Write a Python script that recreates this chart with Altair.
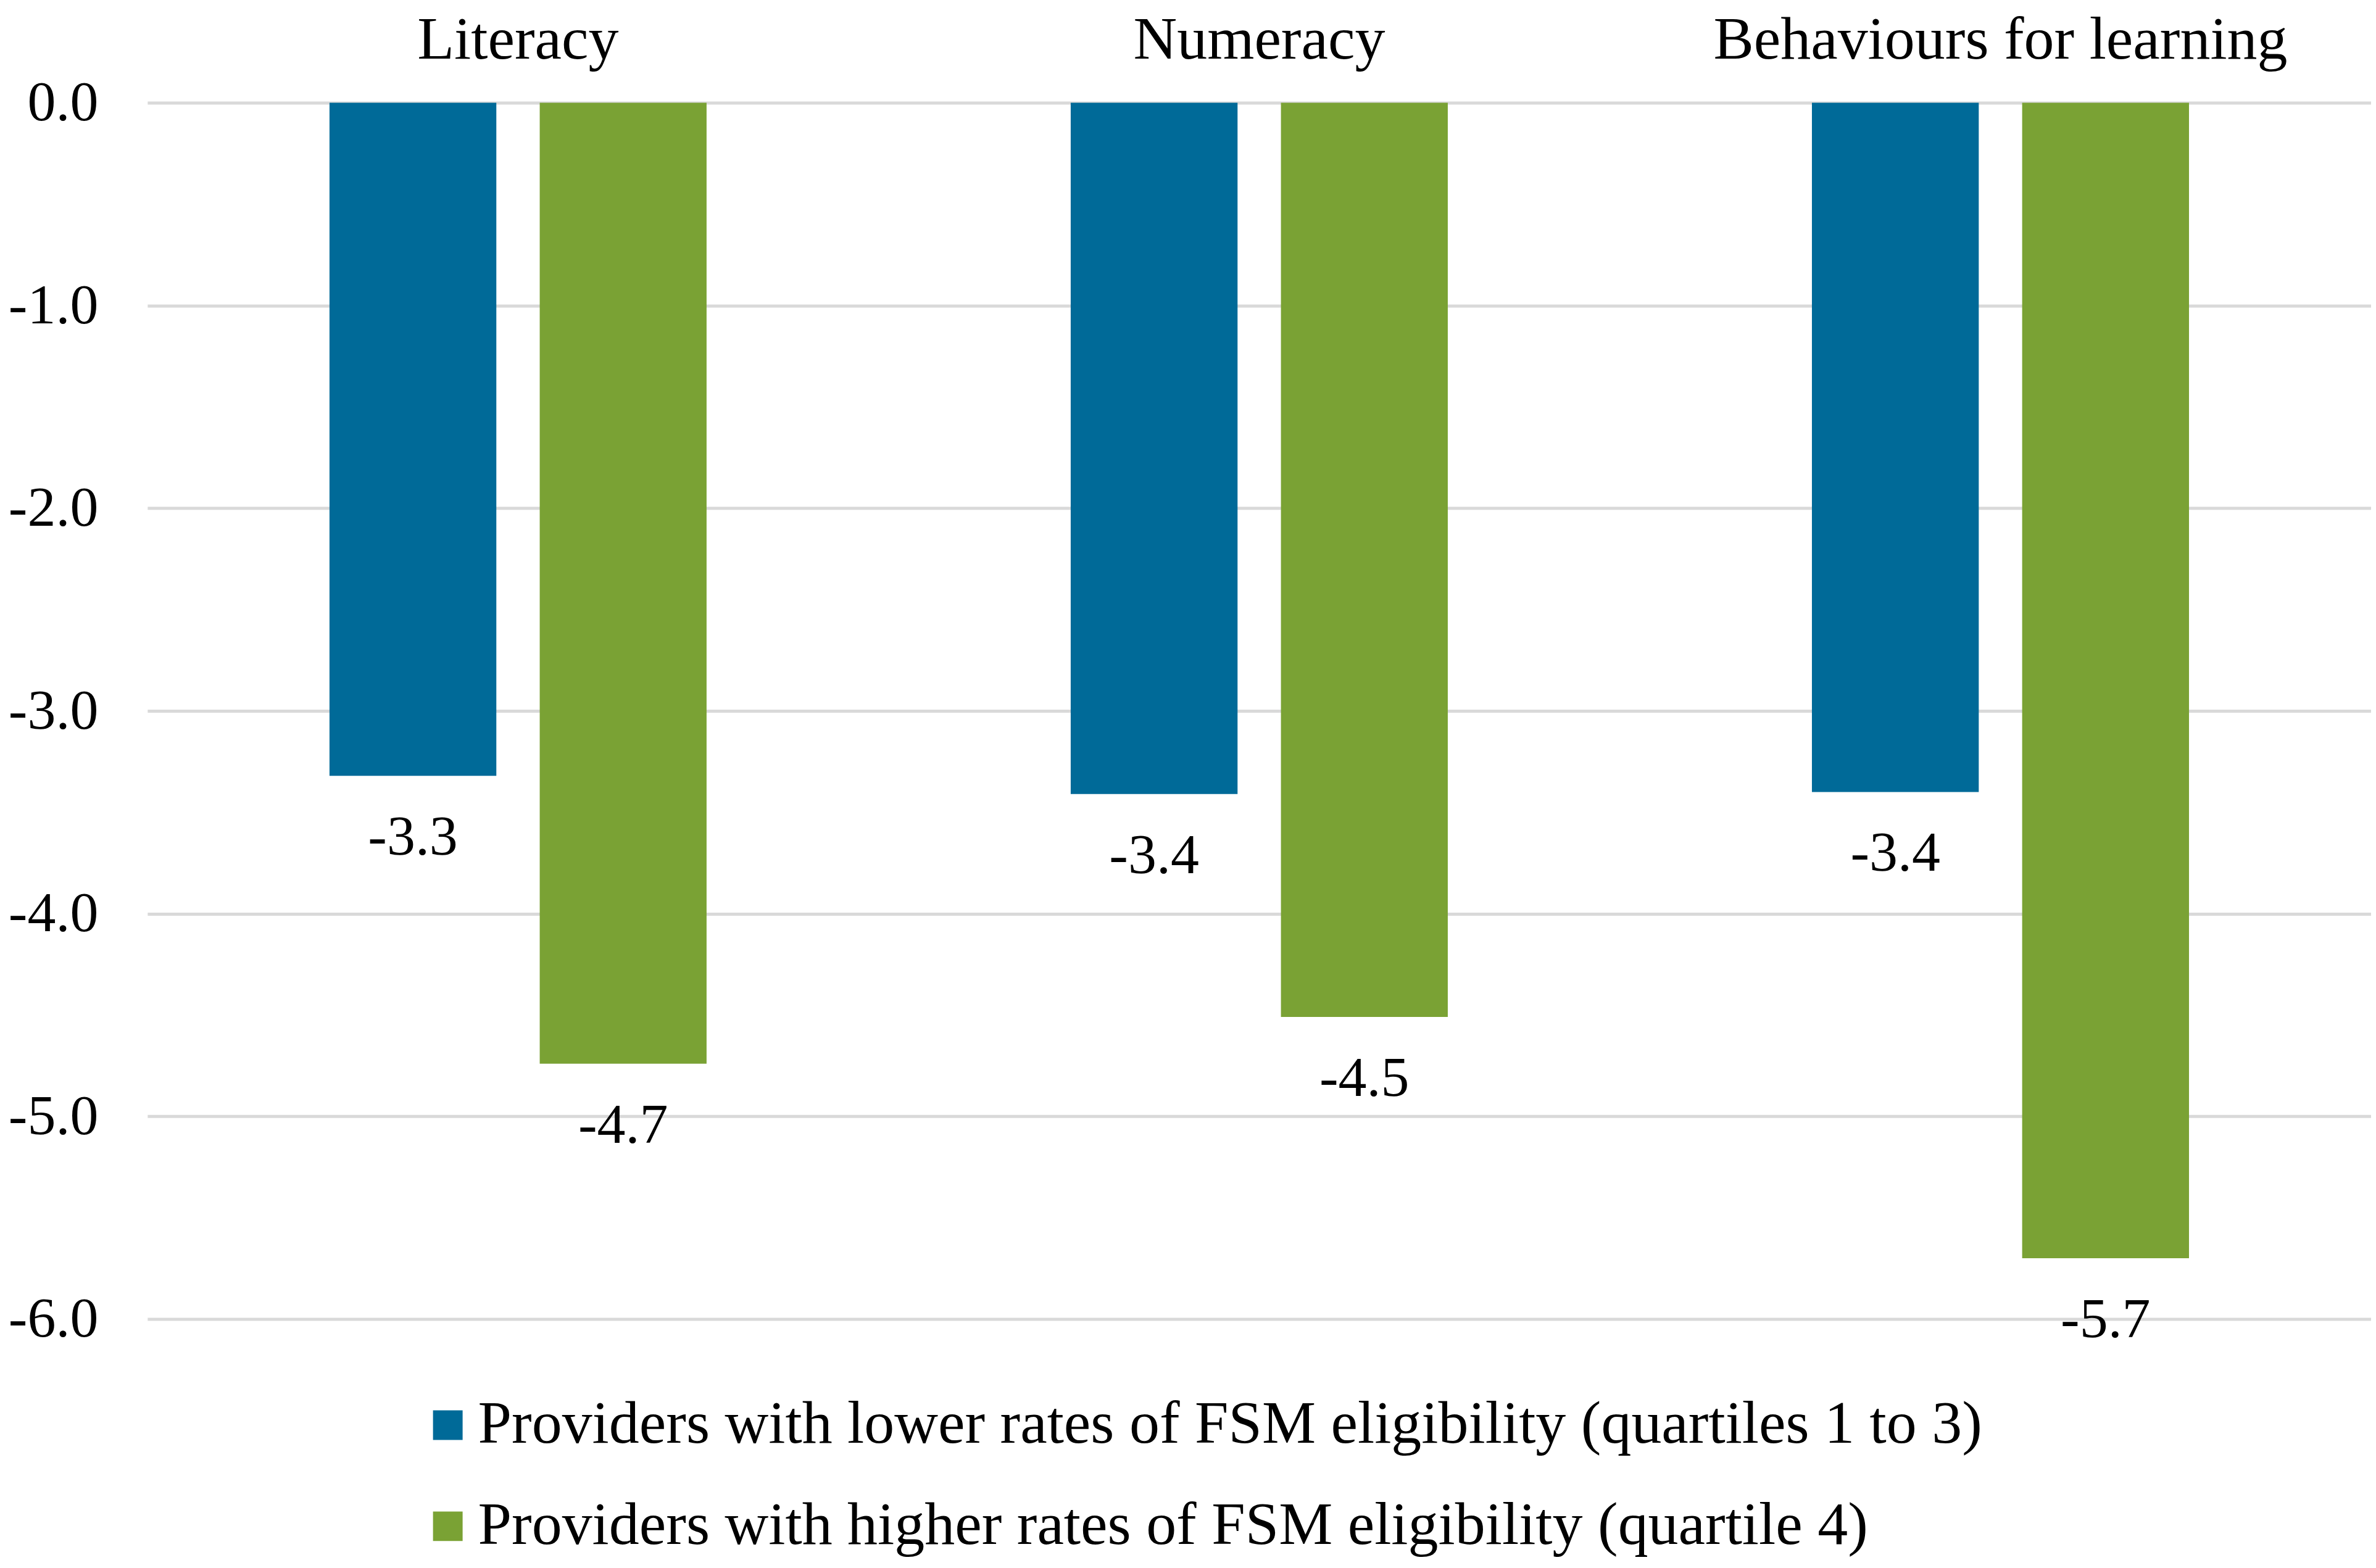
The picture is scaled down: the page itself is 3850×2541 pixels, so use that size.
import altair as alt
import pandas as pd

categories = ["Literacy", "Numeracy", "Behaviours for learning"]
series = [
    "Providers with lower rates of FSM eligibility (quartiles 1 to 3)",
    "Providers with higher rates of FSM eligibility (quartile 4)",
]
lower_values = [-3.32, -3.41, -3.40]
higher_values = [-4.74, -4.51, -5.70]
colors = ["#006A98", "#7AA234"]
y_ticks = [0, -1, -2, -3, -4, -5, -6]

rows = []
for i, c in enumerate(categories):
    rows.append({"category": c, "series": series[0], "value": lower_values[i]})
    rows.append({"category": c, "series": series[1], "value": higher_values[i]})
df = pd.DataFrame(rows)
df["label"] = df["value"].map(lambda v: f"{v:.1f}")

FONT = "Liberation Serif"
FS = 98
FS_NUM = 92

x = alt.X(
    "category:N",
    sort=categories,
    scale=alt.Scale(paddingInner=0, paddingOuter=0),
    axis=alt.Axis(
        orient="top", title=None, domain=False, ticks=False, tickSize=0,
        labelPadding=72, labelBaseline="alphabetic", labelFontSize=FS,
        labelFont=FONT, labelColor="black", labelAngle=0, grid=False,
        labelLimit=3000, labelOverlap=False,
    ),
)
xo = alt.XOffset(
    "series:N", sort=series,
    scale=alt.Scale(paddingInner=0.2064, paddingOuter=0.866),
)
y = alt.Y(
    "value:Q",
    scale=alt.Scale(domain=[-6, 0], nice=False, zero=False),
    axis=alt.Axis(
        title=None, values=y_ticks, domain=False, ticks=False, tickSize=0,
        labelPadding=80, labelFontSize=FS_NUM, labelFont=FONT, labelColor="black",
        labelExpr="replace(format(datum.value, '.1f'), '\u2212', '-')",
        grid=True, gridColor="#D9D9D9", gridWidth=5,
    ),
)

bars = alt.Chart(df).mark_bar().encode(
    x=x,
    xOffset=xo,
    y=y,
    color=alt.Color(
        "series:N",
        sort=series,
        scale=alt.Scale(domain=series, range=colors),
        legend=alt.Legend(
            title=None, orient="none", legendX=438, legendY=2095,
            direction="vertical", symbolType="square", symbolSize=2304,
            symbolStrokeWidth=0, labelFontSize=FS, labelFont=FONT,
            labelColor="black", labelOffset=0, rowPadding=66,
            labelLimit=4000, padding=0,
        ),
    ),
)

labels = alt.Chart(df).mark_text(
    dy=100, baseline="middle", align="center", fontSize=FS_NUM, font=FONT, color="black"
).encode(
    x=x,
    xOffset=xo,
    y=y,
    text="label:N",
)

chart = alt.layer(bars, labels).properties(
    width=3605,
    height=1972,
    autosize=alt.AutoSizeParams(type="none"),
    padding={"left": 231, "top": 158, "right": 0, "bottom": 392},
    background="white",
).configure_view(stroke=None)

chart.save("out.html", embed_options={"renderer": "svg", "actions": False})
